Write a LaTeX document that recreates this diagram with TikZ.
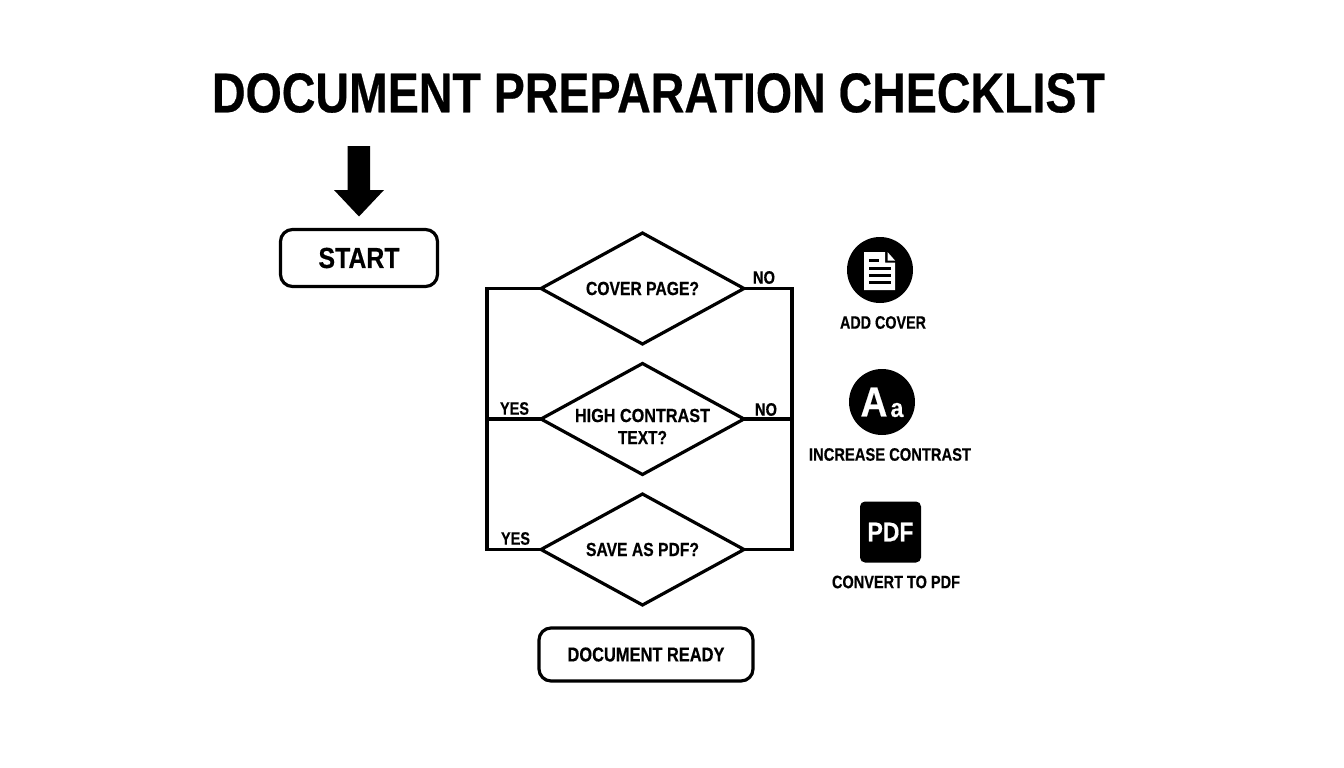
\documentclass[tikz,border=0pt]{standalone}
\usepackage{fontspec}
\usepackage{graphicx}
\setmainfont{Liberation Sans}[BoldFeatures={FakeBold=0.5}]
\usetikzlibrary{shapes.geometric}
\newcommand{\fitw}[3]{{\fontsize{#2}{#2}\selectfont\bfseries\resizebox{#1pt}{\height}{#3}}}
\tikzset{
  lbl/.style={inner sep=0pt,outer sep=0pt,black,font=\bfseries},
  dec/.style={diamond,draw=black,line width=3.2pt,inner sep=0pt,outer sep=0pt,aspect=1.83,minimum width=203pt,minimum height=111pt,align=center,line join=miter},
  term/.style={draw=black,line width=3.2pt,rounded corners=12pt,inner sep=0pt,outer sep=0pt},
  link/.style={draw=black,line width=3.2pt,line cap=butt,line join=miter},
  glyph/.style={fill=white,draw=none},
  bar/.style={draw=black,line width=3pt}
}
\begin{document}
\begin{tikzpicture}[x=1pt,y=-1pt]
\useasboundingbox[fill=white] (0,0) rectangle (1344,768);
\node[lbl] (title) at (658.5,93) {\fitw{893}{56}{DOCUMENT PREPARATION CHECKLIST}};
\fill[black] (347.5,146) -- (370,146) -- (370,190) -- (384,190) -- (359,216.5) -- (334,190) -- (347.5,190) -- cycle;
\node[term,minimum width=157pt,minimum height=57pt] (start) at (359,258) {\fitw{81}{29}{START}};
\node[dec] (d1) at (642.5,288.5) {\fitw{113}{19}{COVER PAGE?}};
\node[dec] (d2) at (642.5,419) {};
\node[lbl] (d2a) at (642.5,415.5) {\fitw{135}{19}{HIGH CONTRAST}};
\node[lbl] (d2b) at (642.5,437.5) {\fitw{49}{19}{TEXT?}};
\node[dec] (d3) at (642.5,549.5) {\fitw{113}{19}{SAVE AS PDF?}};
\node[term,minimum width=214pt,minimum height=53pt] (ready) at (646,654.5) {\fitw{157}{20}{DOCUMENT READY}};
\coordinate (l1) at (487,288.5);
\coordinate (l2) at (487,419);
\coordinate (l3) at (487,549.5);
\coordinate (r1) at (792,288.5);
\coordinate (r2) at (792,419);
\coordinate (r3) at (792,549.5);
\draw[link] (d1.west) -- (l1) -- (l3) -- (d3.west);
\draw[link] (d2.west) -- (l2);
\draw[link] (d1.east) -- (r1) -- (r3) -- (d3.east);
\draw[link] (d2.east) -- (r2);
\node[lbl] (no1) at (764,277.5) {\fitw{22}{18}{NO}};
\node[lbl] (no2) at (766,409.5) {\fitw{22}{18}{NO}};
\node[lbl] (yes1) at (514.5,408.5) {\fitw{29}{18}{YES}};
\node[lbl] (yes2) at (515.5,538.5) {\fitw{29}{18}{YES}};
% add cover icon
\node[circle,fill=black,inner sep=0pt,minimum size=66pt] (ic1) at (880,270) {};
\fill[glyph] (864,252) -- (885,252) -- (885,262.5) -- (895,262.5) -- (895,290) -- (864,290) -- cycle;
\fill[glyph] (887.5,252) -- (895,260.5) -- (887.5,260.5) -- cycle;
\draw[bar] (869,260.5) -- (879,260.5);
\draw[bar] (869,268) -- (891,268);
\draw[bar] (869,275) -- (891,275);
\draw[bar] (869,282) -- (891,282);
\node[lbl] (t1) at (883,322.5) {\fitw{86}{18}{ADD COVER}};
% contrast icon
\node[circle,fill=black,inner sep=0pt,minimum size=66pt] (ic2) at (882,402) {};
\node[lbl,white] (bigA) at (874,402) {\fitw{27}{42}{A}};
\node[lbl,white] (smalla) at (897,410) {\fitw{13}{26}{a}};
\node[lbl] (t2) at (890,454.5) {\fitw{162}{18}{INCREASE CONTRAST}};
% pdf icon
\node[fill=black,rounded corners=5pt,inner sep=0pt,minimum width=61pt,minimum height=61pt] (ic3) at (890.5,532) {};
\node[lbl,white] (pdf) at (890.5,532) {\fitw{46}{27}{PDF}};
\node[lbl] (t3) at (896,582) {\fitw{128}{18}{CONVERT TO PDF}};
\end{tikzpicture}
\end{document}
